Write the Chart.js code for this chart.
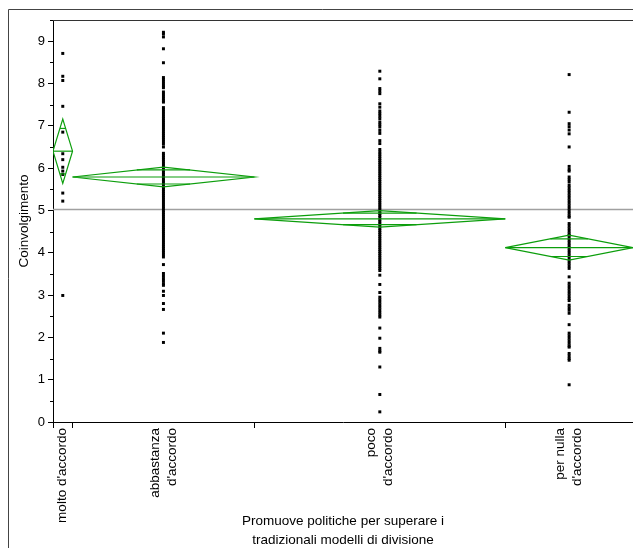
<!DOCTYPE html>
<html>
<head>
<meta charset="utf-8">
<script src="https://cdn.jsdelivr.net/npm/chart.js@4"></script>
<style>
  html, body { margin: 0; padding: 0; background: #fff; overflow: hidden; }
  #wrap { width: 633px; height: 548px; overflow: hidden; }
</style>
</head>
<body>
<div id="wrap"><canvas id="chart" width="637" height="548"></canvas></div>
<script>
// groups (x categories), widths proportional to group size like JMP does
const groupLabels = [["molto d'accordo"], ["abbastanza", "d'accordo"], ["poco", "d'accordo"], ["per nulla", "d'accordo"]];
const groupCounts = [13, 121, 167, 85];
const groupMeans = [6.40, 5.79, 4.80, 4.12];
const groupCI = [0.76, 0.235, 0.195, 0.295]; // half height of the means diamond
const grandMean = 5.02;
const yTicks = [0, 1, 2, 3, 4, 5, 6, 7, 8, 9];

// Coinvolgimento values
const moltoVals = [8.71, 8.17, 8.07, 7.46, 6.85, 6.34, 6.20, 6.02, 5.93, 5.85, 5.41, 5.22, 2.99];
const abbastanzaVals = [9.21, 9.17, 9.10, 8.82, 8.49, 8.14, 8.09, 8.04, 7.99, 7.94, 7.90, 7.80, 7.75, 7.70,
    7.65, 7.60, 7.56, 7.43, 7.38, 7.33, 7.28, 7.22, 7.17, 7.12, 7.07, 7.02, 6.97, 6.92, 6.87, 6.82,
    6.77, 6.72, 6.67, 6.62, 6.57, 6.50, 6.35, 6.30, 6.25, 6.20, 6.15, 6.10, 6.05, 6.00, 5.95, 5.90,
    5.85, 5.80, 5.75, 5.70, 5.65, 5.60, 5.55, 5.50, 5.45, 5.40, 5.35, 5.30, 5.25, 5.20, 5.15, 5.10,
    5.05, 5.00, 4.95, 4.90, 4.85, 4.80, 4.75, 4.70, 4.65, 4.60, 4.55, 4.50, 4.45, 4.40, 4.35, 4.30,
    4.25, 4.20, 4.15, 4.10, 4.05, 4.00, 3.95, 3.90, 3.72, 3.51, 3.45, 3.39, 3.33, 3.27, 3.23, 3.09,
    2.99, 2.80, 2.66, 2.10, 1.88];
const pocoVals = [8.29, 8.11, 7.88, 7.82, 7.76, 7.52, 7.44, 7.35, 7.29, 7.23, 7.17, 7.09, 7.03, 6.97,
    6.89, 6.82, 6.65, 6.58, 6.44, 6.38, 6.33, 6.28, 6.23, 6.18, 6.13, 6.08, 6.03, 5.98, 5.93, 5.88,
    5.83, 5.78, 5.73, 5.68, 5.63, 5.58, 5.53, 5.48, 5.43, 5.38, 5.33, 5.28, 5.23, 5.18, 5.13, 5.08,
    5.03, 4.98, 4.93, 4.88, 4.83, 4.78, 4.73, 4.68, 4.63, 4.58, 4.53, 4.48, 4.43, 4.38, 4.33, 4.28,
    4.23, 4.18, 4.13, 4.08, 4.03, 3.98, 3.93, 3.88, 3.83, 3.78, 3.73, 3.68, 3.63, 3.58, 3.47, 3.25,
    3.06, 2.95, 2.89, 2.83, 2.77, 2.71, 2.65, 2.59, 2.53, 2.48, 2.22, 1.98, 1.74, 1.68, 1.65, 1.30,
    0.65, 0.24];
const perNullaVals = [8.21, 7.32, 7.05, 6.98, 6.90, 6.81, 6.50, 6.04, 5.97, 5.93, 5.79, 5.73, 5.67,
    5.59, 5.53, 5.47, 5.41, 5.35, 5.29, 5.23, 5.17, 5.11, 5.05, 4.99, 4.93, 4.87, 4.84, 4.69, 4.63,
    4.57, 4.51, 4.45, 4.41, 4.35, 4.29, 4.23, 4.17, 4.11, 4.05, 3.99, 3.93, 3.87, 3.81, 3.75, 3.69,
    3.63, 3.43, 3.28, 3.22, 3.16, 3.10, 3.04, 2.98, 2.92, 2.87, 2.76, 2.70, 2.64, 2.57, 2.30, 2.10,
    2.04, 1.98, 1.92, 1.86, 1.80, 1.77, 1.62, 1.56, 1.50, 1.46, 0.88];
const groupVals = [moltoVals, abbastanzaVals, pocoVals, perNullaVals];

const xTitle = ["Promuove politiche per superare i", "tradizionali modelli di divisione"];
const yTitle = "Coinvolgimento";

const GREEN = '#0c9e0c';
const FONT = "'Liberation Sans', Arial, sans-serif";

// group boundaries and centres on the x scale
const bounds = [0];
groupCounts.forEach(n => bounds.push(bounds[bounds.length - 1] + n));
const total = bounds[bounds.length - 1];
const centers = groupCounts.map((n, i) => bounds[i] + n / 2);

const datasets = [];

// means diamonds
groupMeans.forEach((m, i) => {
    const l = bounds[i], r = bounds[i + 1], c = centers[i], h = groupCI[i];
    const lineDs = (pts) => ({
        data: pts, showLine: true, borderColor: GREEN, borderWidth: 1.2,
        pointRadius: 0, fill: false, order: 0
    });
    datasets.push(lineDs([{x: l, y: m}, {x: c, y: m + h}, {x: r, y: m}, {x: c, y: m - h}, {x: l, y: m}]));
    datasets.push(lineDs([{x: l, y: m}, {x: r, y: m}]));
    const o = h / Math.SQRT2;
    const hw = (r - l) / 2 * (1 - 1 / Math.SQRT2);
    datasets.push(lineDs([{x: c - hw, y: m + o}, {x: c + hw, y: m + o}]));
    datasets.push(lineDs([{x: c - hw, y: m - o}, {x: c + hw, y: m - o}]));
});

// points
groupVals.forEach((vals, i) => {
    datasets.push({
        data: vals.map(v => ({x: centers[i], y: v})),
        pointStyle: 'rect', pointRadius: 2.1, pointBorderWidth: 0,
        backgroundColor: '#000', borderColor: '#000', order: 1
    });
});

// grand mean line
datasets.push({
    data: [{x: 0, y: grandMean}, {x: total, y: grandMean}],
    showLine: true, borderColor: '#a0a0a0', borderWidth: 1.5, pointRadius: 0, order: 2
});

const decor = {
    id: 'decor',
    afterDraw(chart) {
        const ctx = chart.ctx;
        const a = chart.chartArea;
        const xs = chart.scales.x, ys = chart.scales.y;
        ctx.save();
        // outer frame
        ctx.strokeStyle = '#444';
        ctx.lineWidth = 1;
        ctx.beginPath();
        ctx.moveTo(8.5, 548);
        ctx.lineTo(8.5, 9.5);
        ctx.lineTo(chart.width, 9.5);
        ctx.stroke();
        // plot top border
        ctx.strokeStyle = '#333';
        ctx.beginPath();
        ctx.moveTo(a.left, a.top + 0.5);
        ctx.lineTo(chart.width, a.top + 0.5);
        ctx.stroke();
        // minor y ticks
        ctx.strokeStyle = '#000';
        yTicks.forEach(t => {
            const y = Math.round(ys.getPixelForValue(t + 0.5)) + 0.5;
            ctx.beginPath();
            ctx.moveTo(a.left - 3, y);
            ctx.lineTo(a.left, y);
            ctx.stroke();
        });
        // category labels, rotated
        ctx.fillStyle = '#000';
        ctx.font = '13.5px ' + FONT;
        ctx.textAlign = 'right';
        ctx.textBaseline = 'middle';
        groupLabels.forEach((lines, i) => {
            const cx = xs.getPixelForValue(centers[i]);
            const lh = 17;
            lines.forEach((txt, k) => {
                const x = cx + (k - (lines.length - 1) / 2) * lh;
                ctx.save();
                ctx.translate(x, a.bottom + 6);
                ctx.rotate(-Math.PI / 2);
                ctx.fillText(txt, 0, 0);
                ctx.restore();
            });
        });
        // axis titles
        ctx.textAlign = 'center';
        const mx = (a.left + a.right) / 2;
        ctx.fillText(xTitle[0], mx, 521);
        ctx.fillText(xTitle[1], mx, 540);
        ctx.save();
        ctx.translate(24, (a.top + a.bottom) / 2);
        ctx.rotate(-Math.PI / 2);
        ctx.fillText(yTitle, 0, 0);
        ctx.restore();
        ctx.restore();
    }
};

Chart.defaults.font.family = FONT;
Chart.defaults.font.size = 12;
Chart.defaults.color = '#000';

new Chart(document.getElementById('chart').getContext('2d'), {
    type: 'scatter',
    data: { datasets: datasets },
    options: {
        responsive: false,
        animation: false,
        layout: { padding: { top: 20, right: 0, left: 0, bottom: 0 } },
        plugins: { legend: { display: false }, tooltip: { enabled: false } },
        scales: {
            x: {
                type: 'linear', min: 0, max: total,
                afterBuildTicks: s => { s.ticks = bounds.map(v => ({value: v})); },
                afterFit: s => { s.height = 126; },
                ticks: { callback: () => '' },
                grid: { drawOnChartArea: false, tickLength: 6, color: '#000' },
                border: { color: '#000', width: 1 }
            },
            y: {
                min: 0, max: 9.5,
                afterBuildTicks: s => { s.ticks = yTicks.map(v => ({value: v})); },
                afterFit: s => { s.width = 53; },
                ticks: { padding: 3, font: { size: 13 } },
                grid: { drawOnChartArea: false, tickLength: 5, color: '#000' },
                border: { color: '#000', width: 1 }
            }
        }
    },
    plugins: [decor]
});
</script>
</body>
</html>
